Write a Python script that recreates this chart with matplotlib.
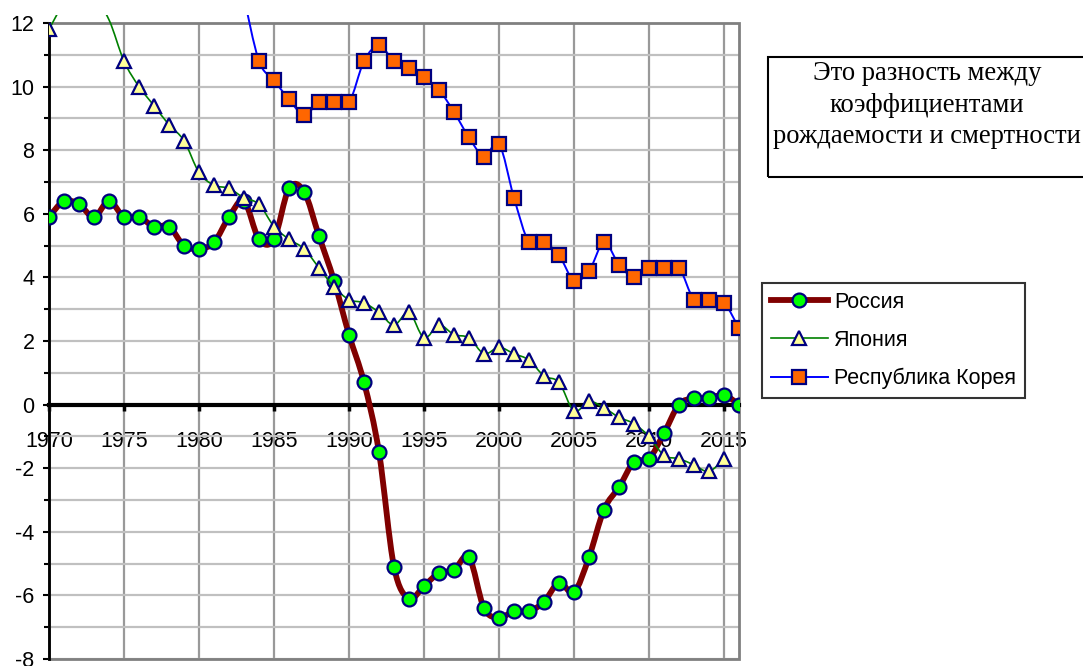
import matplotlib
matplotlib.use("Agg")
import matplotlib.pyplot as plt
from matplotlib.path import Path
from matplotlib.patches import PathPatch, Rectangle
from matplotlib.lines import Line2D
import numpy as np

plt.rcParams["axes.unicode_minus"] = False
plt.rcParams["font.family"] = ["Liberation Sans", "DejaVu Sans"]

# естественный прирост, на 1000 человек
years_ru = list(range(1970, 2017))
russia = [5.9, 6.4, 6.3, 5.9, 6.4, 5.9, 5.9, 5.6, 5.6, 5.0,
          4.9, 5.1, 5.9, 6.4, 5.2, 5.2, 6.8, 6.7, 5.3, 3.9,
          2.2, 0.7, -1.5, -5.1, -6.1, -5.7, -5.3, -5.2, -4.8, -6.4,
          -6.7, -6.5, -6.5, -6.2, -5.6, -5.9, -4.8, -3.3, -2.6, -1.8,
          -1.7, -0.9, 0.0, 0.2, 0.2, 0.3, 0.0]

years_jp = list(range(1970, 2016))
japan = [11.8, 12.6, 12.8, 12.8, 12.1, 10.8, 10.0, 9.4, 8.8, 8.3,
         7.3, 6.9, 6.8, 6.5, 6.3, 5.6, 5.2, 4.9, 4.3, 3.7,
         3.3, 3.2, 2.9, 2.5, 2.9, 2.1, 2.5, 2.2, 2.1, 1.6,
         1.8, 1.6, 1.4, 0.9, 0.7, -0.2, 0.1, -0.1, -0.4, -0.6,
         -1.0, -1.6, -1.7, -1.9, -2.1, -1.7]

years_kr = list(range(1983, 2017))
korea = [12.8, 10.8, 10.2, 9.6, 9.1, 9.5, 9.5, 9.5, 10.8, 11.3,
         10.8, 10.6, 10.3, 9.9, 9.2, 8.4, 7.8, 8.2, 6.5, 5.1,
         5.1, 4.7, 3.9, 4.2, 5.1, 4.4, 4.0, 4.3, 4.3, 4.3,
         3.3, 3.3, 3.2, 2.4]

names = ["Россия", "Япония", "Республика Корея"]
note = "Это разность между\nкоэффициентами\nрождаемости и смертности"

YMIN, YMAX = -8, 12


def smooth_path(x, y):
    # сглаженная линия как в Excel: кубические Безье по соседним точкам
    pts = np.column_stack([x, y]).astype(float)
    n = len(pts)
    verts = [pts[0]]
    codes = [Path.MOVETO]
    for i in range(n - 1):
        p0 = pts[i - 1] if i > 0 else pts[i]
        p1 = pts[i]
        p2 = pts[i + 1]
        p3 = pts[i + 2] if i + 2 < n else pts[i + 1]
        verts += [p1 + (p2 - p0) / 6, p2 - (p3 - p1) / 6, p2]
        codes += [Path.CURVE4] * 3
    return Path(verts, codes)


fig = plt.figure(figsize=(10.83, 6.66), dpi=100)
ax = fig.add_axes([49 / 1083, 7 / 666, 690 / 1083, 636 / 666])

ax.set_xlim(1970, 2016)
ax.set_ylim(YMIN, YMAX)

# линии могут чуть выходить за верх области построения
clip = Rectangle((0, 0), 1, 1 + 8 / 636, transform=ax.transAxes)

series = [
    (years_ru, russia, dict(color="#800000", lw=4.2), dict(marker="o", ms=10, mfc="#00FF00")),
    (years_jp, japan, dict(color="#008000", lw=1.2), dict(marker="^", ms=10, mfc="#FFFF99")),
    (years_kr, korea, dict(color="#0000FF", lw=1.4), dict(marker="s", ms=9.5, mfc="#FF6600")),
]

handles = []
z = 3
for (xs, ys, lstyle, mstyle), name in zip(series, names):
    patch = PathPatch(smooth_path(xs, ys), fill=False, capstyle="round",
                      joinstyle="round", zorder=z,
                      edgecolor=lstyle["color"], linewidth=lstyle["lw"])
    ax.add_patch(patch)
    patch.set_clip_path(clip)
    xs_a = np.array(xs)
    ys_a = np.array(ys)
    inside = ys_a <= YMAX
    ax.plot(xs_a[inside], ys_a[inside], ls="none", mec="#000080", mew=1.6,
            zorder=z + 0.5, **mstyle)
    handles.append(Line2D([], [], color=lstyle["color"], lw=lstyle["lw"],
                          mec="#000080", mew=1.6, **mstyle))
    z += 1

# сетка
ax.set_xticks(range(1970, 2016, 5))
ax.set_yticks(range(YMIN, YMAX + 1, 2))
ax.set_yticks(range(YMIN + 1, YMAX, 2), minor=True)
ax.set_axisbelow(True)
ax.grid(axis="x", which="major", color="#999999", lw=1.6)
ax.grid(axis="y", which="both", color="#C0C0C0", lw=1.6)

ax.spines["top"].set_visible(False)
ax.spines["right"].set_visible(False)
ax.spines["left"].set_color("black")
ax.spines["left"].set_linewidth(2)
ax.spines["bottom"].set_position(("data", 0))
ax.spines["bottom"].set_color("black")
ax.spines["bottom"].set_linewidth(3)
for s in ax.spines.values():
    s.set_zorder(1)

frame = Rectangle((0, 0), 1, 1, transform=ax.transAxes, fill=False,
                  edgecolor="#808080", lw=2, zorder=0.9, clip_on=False)
ax.add_patch(frame)

ax.tick_params(axis="x", direction="out", length=4, width=2.5, pad=15,
               labelsize=15.5, colors="black")
ax.tick_params(axis="y", which="major", direction="out", length=4.5, width=1.5,
               pad=6, labelsize=15.5)
ax.tick_params(axis="y", which="minor", direction="out", length=3.5, width=1.5)

# пояснение справа
fig.patches.append(Rectangle((768 / 1083, 1 - 177 / 666), 330 / 1083, 120 / 666,
                             transform=fig.transFigure, fill=False,
                             edgecolor="black", lw=1.5))
fig.text(927 / 1083, 1 - 105 / 666, note, ha="center", va="center",
         family=["Liberation Serif", "DejaVu Serif"], fontsize=19.2, linespacing=1.33)

leg = fig.legend(handles, names, loc="upper left",
                 bbox_to_anchor=(762 / 1083, 1 - 283 / 666),
                 fontsize=15.5, frameon=True, fancybox=False, borderpad=0.4,
                 handlelength=2.65, handletextpad=0.3, labelspacing=0.8,
                 borderaxespad=0)
leg.get_frame().set_edgecolor("black")
leg.get_frame().set_linewidth(1.5)

fig.savefig("out.png", dpi=100)
